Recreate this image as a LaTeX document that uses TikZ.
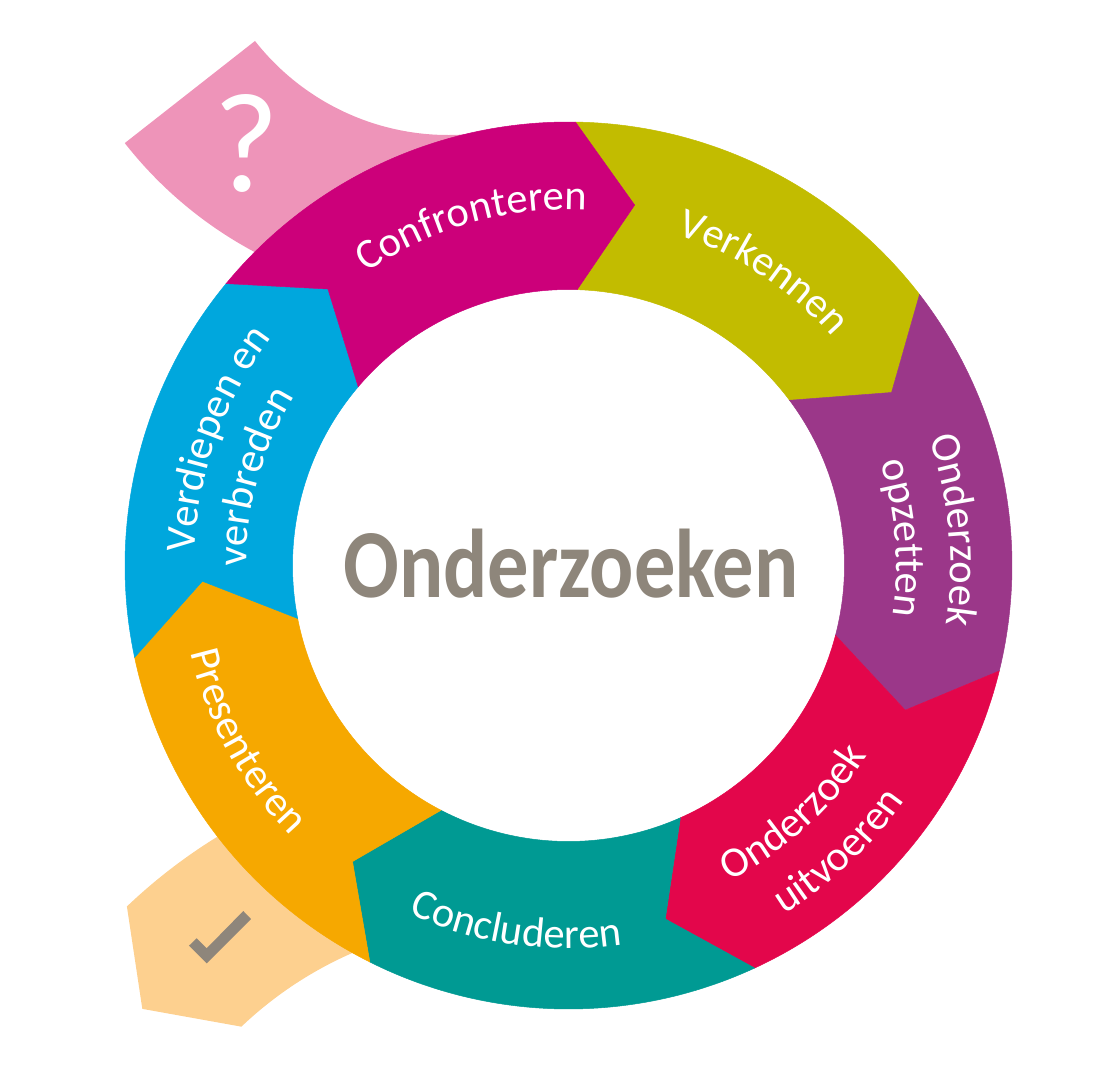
\documentclass[tikz,border=0pt]{standalone}
\usepackage{fontspec}
\usetikzlibrary{decorations.text,calc}
\newfontfamily\lblfont{Carlito}
\definecolor{cPinkL}{HTML}{EE94B9}
\definecolor{cOrangeL}{HTML}{FDD08F}
\definecolor{cMagenta}{HTML}{CC007A}
\definecolor{cOlive}{HTML}{C2BC00}
\definecolor{cPurple}{HTML}{9B3789}
\definecolor{cRed}{HTML}{E3064B}
\definecolor{cTeal}{HTML}{009A93}
\definecolor{cOrange}{HTML}{F6A800}
\definecolor{cCyan}{HTML}{00A7DD}
\definecolor{cGrey}{HTML}{8E867B}
\newcommand\lblf{\lblfont\fontsize{42.5}{50}\selectfont}
\tikzset{
  lbl/.style={decorate, decoration={text along path, text align=center, text color=white, text={|\lblf|#1}}},
}
\begin{document}
\begin{tikzpicture}[x=1pt,y=1pt]
\useasboundingbox (-568.5,-506.5) rectangle (550.5,565.5);
% tails
\coordinate (pc) at (-120.3,676);
\coordinate (oc) at (-63,-738.5);
\fill[cPinkL] ($(pc)+(218.1:411pt)$) arc[start angle=218.1, end angle=280, radius=411pt]
  -- ($(pc)+(280:245.5pt)$) arc[start angle=280, end angle=218.1, radius=245.5pt] -- cycle;
\fill[cOrangeL] ($(oc)+(100:549pt)$) arc[start angle=100, end angle=133.6, radius=549pt]
  -- ($(oc)+(140.9:468pt)$) -- ($(oc)+(133.6:383pt)$)
  arc[start angle=133.6, end angle=100, radius=383pt] -- cycle;
\fill[white] (0,0) circle[radius=276pt];
% ring segments
\foreach \k/\col in {0/cOlive,1/cPurple,2/cRed,3/cTeal,4/cOrange,5/cCyan,6/cMagenta}{
  \pgfmathsetmacro\oa{89.1-51.4286*\k}
  \pgfmathsetmacro\ob{89.1-51.4286*(\k+1)}
  \pgfmathsetmacro\ia{88.2-51.4286*\k}
  \pgfmathsetmacro\ib{88.2-51.4286*(\k+1)}
  \pgfmathsetmacro\ta{79.6-51.4286*\k}
  \pgfmathsetmacro\tb{79.6-51.4286*(\k+1)}
  \fill[\col, draw=\col, line width=0.5pt] (\oa:443.5pt) arc[start angle=\oa, end angle=\ob, radius=443.5pt]
    -- (\tb:366.5pt) -- (\ib:276pt) arc[start angle=\ib, end angle=\ia, radius=276pt]
    -- (\ta:366.5pt) -- cycle;
}
% labels
\path[lbl=Confronteren] (145.8:356pt) arc[start angle=145.8, end angle=65.8, radius=356pt];
\path[lbl=Verkennen] (96.4:348.5pt) arc[start angle=96.4, end angle=16.4, radius=348.5pt];
\path[lbl=Onderzoek] (45.25:382pt) arc[start angle=45.25, end angle=-34.75, radius=382pt];
\path[lbl=opzetten] (44.7:328pt) arc[start angle=44.7, end angle=-35.3, radius=328pt];
\path[lbl=Onderzoek] (-87.7:354pt) arc[start angle=-87.7, end angle=-7.7, radius=354pt];
\path[lbl=uitvoeren] (-86.6:410pt) arc[start angle=-86.6, end angle=-6.6, radius=410pt];
\path[lbl=Concluderen] (-138.3:383pt) arc[start angle=-138.3, end angle=-58.3, radius=383pt];
\path[lbl=Presenteren] (168.6:388pt) arc[start angle=168.6, end angle=248.6, radius=388pt];
\path[lbl=Verdiepen en] (200.3:374pt) arc[start angle=200.3, end angle=120.3, radius=374pt];
\path[lbl=verbreden] (204.2:322pt) arc[start angle=204.2, end angle=124.2, radius=322pt];
% centre title
\node[text=cGrey, font=\lblfont\bfseries\fontsize{97.6}{98}\selectfont, anchor=base, xscale=0.845, inner sep=0pt] (title) at (2.5,-31.5) {Onderzoeken};
% question mark
\node[text=white, font=\lblfont\fontsize{142}{142}\selectfont, anchor=base, inner sep=0pt] (qmark) at (-322,373.8) {?};
% check mark
\fill[cGrey] (-379.5,-380.2) -- (-361.8,-397.8) -- (-317.5,-353.5) -- (-325.2,-345.5) -- (-361.8,-382.8) -- (-371.8,-372.8) -- cycle;
\end{tikzpicture}
\end{document}
